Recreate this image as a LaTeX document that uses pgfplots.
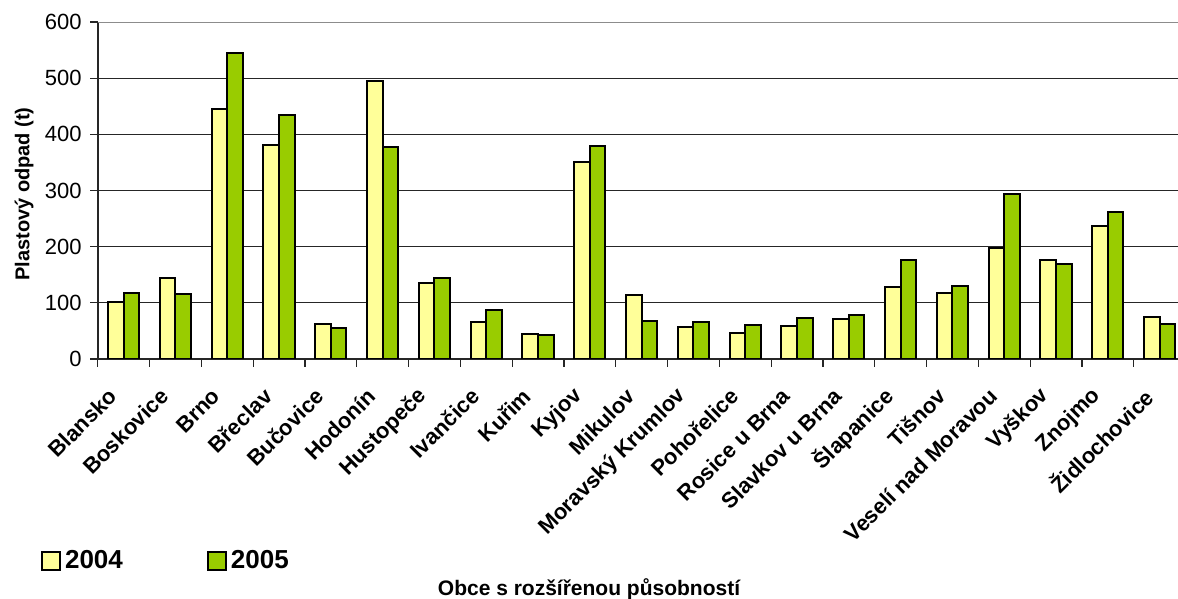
\documentclass[border=0pt]{standalone}
\usepackage{fontspec}
\setmainfont{Liberation Sans}
\usepackage{pgfplots}
\pgfplotsset{compat=1.18}
\usepackage{pgfplotstable}

\definecolor{yr2004}{HTML}{FFFF99}
\definecolor{yr2005}{HTML}{99CC00}

% category index, 2004, 2005 (t)
\pgfplotstableread{
x   y2004  y2005
0   102    117
1   144    115
2   446    544
3   381    435
4   63     55
5   495    377
6   135    145
7   65     87
8   45     43
9   351    380
10  114    68
11  57     65
12  47     60
13  58     73
14  71     78
15  128    177
16  118    130
17  198    293
18  177    170
19  236    261
20  74     63
}\odpad

\begin{document}
\begin{tikzpicture}
\useasboundingbox (0,0) rectangle (589pt,299.5pt);
\begin{axis}[
  at={(48.85pt,120pt)}, anchor=south west,
  scale only axis, width=540.15pt, height=168.5pt,
  xmin=-0.5, xmax=20.355, ymin=0, ymax=600,
  axis x line*=bottom, axis y line*=left,
  axis line style={black!85, line width=0.8pt},
  tick align=outside, major tick length=3.85pt,
  tick style={black!85, line width=0.6pt},
  ytick={0,100,...,600},
  ymajorgrids, grid style={black!85, line width=0.5pt},
  /pgf/number format/assume math mode=true,
  yticklabel style={font=\fontsize{11}{13}\selectfont, anchor=east, inner sep=0pt, xshift=-4pt},
  % ticks sit between the categories; each name is moved to its category centre
  xtick={-0.5,0.5,...,19.5},
  xticklabels={Blansko,Boskovice,Brno,Břeclav,Bučovice,Hodonín,Hustopeče,Ivančice,Kuřim,Kyjov,Mikulov,Moravský Krumlov,Pohořelice,Rosice u Brna,Slavkov u Brna,Šlapanice,Tišnov,Veselí nad Moravou,Vyškov,Znojmo,Židlochovice},
  xticklabel style={font=\fontsize{11}{13}\selectfont\bfseries, inner sep=0pt,
    xshift=7.6pt, yshift=-12.8pt, rotate=45, anchor=east},
  ylabel={Plastový odpad (t)},
  ylabel style={font=\fontsize{10}{12}\selectfont\bfseries, at={(axis description cs:-0.0682,0.4896)}, anchor=center, rotate=0},
  xlabel={Obce s rozšířenou působností},
  xlabel style={font=\fontsize{10.5}{12}\selectfont\bfseries, at={(axis description cs:0.4548,-0.6766)}, anchor=center, yshift=-1pt},
  bar width=0.3,
  legend columns=2,
  legend style={draw=none, fill=none, inner sep=0pt, at={(axis description cs:-0.0528,-0.5994)}, anchor=west,
    font=\fontsize{13}{15}\selectfont\bfseries,
    /tikz/every even column/.append style={column sep=40pt}},
  legend image code/.code={\draw[#1,line width=1pt] (0pt,-4.5pt) rectangle (9pt,4.5pt);},
]
\addplot[ybar, bar shift=-0.15, fill=yr2004, draw=black, line width=1pt] table[x=x,y=y2004] {\odpad};
\addlegendentry{2004}
\addplot[ybar, bar shift=0.15, fill=yr2005, draw=black, line width=1pt] table[x=x,y=y2005] {\odpad};
\addlegendentry{2005}
% frame line along the top of the plot area
\draw[gray!90, line width=1pt] (rel axis cs:0,1) -- (rel axis cs:1,1);
\end{axis}
\end{tikzpicture}
\end{document}
